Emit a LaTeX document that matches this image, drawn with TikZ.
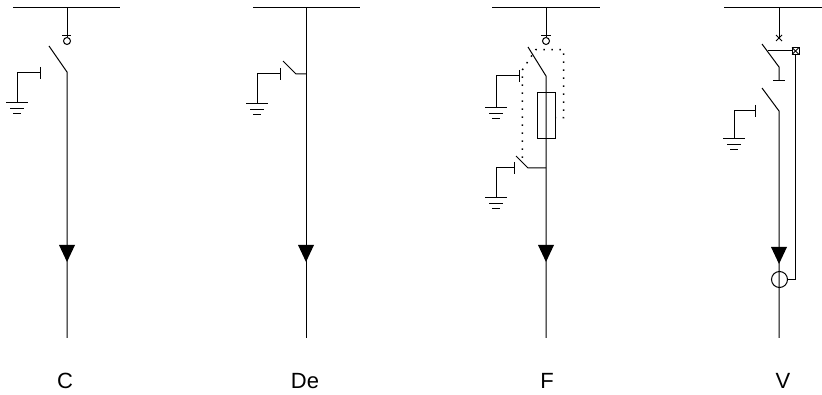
\documentclass[tikz,border=0pt]{standalone}
\usepackage{fontspec}
\setmainfont{Liberation Sans}
\usetikzlibrary{shapes,arrows,calc}
\tikzstyle{line} = [draw, line width=1pt]
\tikzstyle{ring} = [circle, draw, line width=1pt, inner sep=0pt, minimum size=7pt]
\tikzstyle{fuse} = [rectangle, draw, line width=1pt, inner sep=0pt, minimum width=18pt, minimum height=46pt]
\tikzstyle{relay} = [rectangle, draw, line width=1pt, inner sep=0pt, minimum size=7pt]
\tikzstyle{sensor} = [circle, draw, line width=1pt, inner sep=0pt, minimum size=16pt]
\tikzstyle{caption} = [inner sep=0pt, font=\fontsize{22}{22}\selectfont]
\tikzstyle{link} = [draw, line width=1.5pt, dash pattern=on 1.5pt off 6.5pt]
% earth symbol hanging under a named point
\newcommand{\earth}[1]{
    \path [line] ($(#1)+(-11,0)$) -- ++(22,0);
    \path [line] ($(#1)+(-7,5.5)$) -- ++(14,0);
    \path [line] ($(#1)+(-4,11)$) -- ++(8,0);
}
% cable head, filled triangle on the feeder
\newcommand{\head}[2]{
    \fill (#1,#2) -- ++(-8,0) -- ++(8,17) -- ++(8,-17) -- cycle;
}

\begin{document}
\begin{tikzpicture}
[x=1pt, y=-1pt]
    \useasboundingbox (0,0) rectangle (822,395);

    % Panel C
    \coordinate (cbusl) at (13,8);
    \coordinate (cbusr) at (120,8);
    \coordinate (cbus) at (67,8);
    \node [ring] (cring) at (67,41) {};
    \coordinate (cblade) at (49,46);
    \coordinate (chinge) at (67,72);
    \coordinate (cend) at (67,338);
    \coordinate (cstop) at (40,73);
    \coordinate (cgnd) at (17,103);
    \node [caption] (clabel) at (65,381) {C};

    \path [line] (cbusl) -- (cbusr);
    \path [line] (cbus) -- (cring.north);
    \path [line] (62,36) -- (71,36);
    \path [line] (cblade) -- (chinge) -- (cend);
    \path [line] (40,67) -- (40,79);
    \path [line] (cstop) -| (cgnd);
    \earth{cgnd}
    \head{67}{245}

    % Panel De
    \coordinate (dbusl) at (253,8);
    \coordinate (dbusr) at (360,8);
    \coordinate (dbus) at (306,8);
    \coordinate (dend) at (306,338);
    \coordinate (dblade) at (283,61);
    \coordinate (dhinge) at (296,74);
    \coordinate (dtap) at (306,74);
    \coordinate (dstop) at (280,74);
    \coordinate (dgnd) at (257,104);
    \node [caption] (dlabel) at (305,381) {De};

    \path [line] (dbusl) -- (dbusr);
    \path [line] (dbus) -- (dend);
    \path [line] (dblade) -- (dhinge) -- (dtap);
    \path [line] (280,68) -- (280,80);
    \path [line] (dstop) -| (dgnd);
    \earth{dgnd}
    \head{306}{245}

    % Panel F
    \coordinate (fbusl) at (492,8);
    \coordinate (fbusr) at (600,8);
    \coordinate (fbus) at (546,8);
    \node [ring] (fring) at (546,41) {};
    \node [fuse] (ffuse) at (546,116) {};
    \coordinate (fblade) at (528,47);
    \coordinate (fhinge) at (546,76);
    \coordinate (fend) at (546,338);
    \coordinate (fstop) at (519,76);
    \coordinate (fgnd) at (496,108);
    \coordinate (fbladeb) at (516,156);
    \coordinate (fhingeb) at (528,168);
    \coordinate (ftap) at (546,168);
    \coordinate (fstopb) at (514,168);
    \coordinate (fgndb) at (496,198);
    \node [caption] (flabel) at (547,381) {F};

    \path [line] (fbusl) -- (fbusr);
    \path [line] (fbus) -- (fring.north);
    \path [line] (541,36) -- (551,36);
    \path [line] (fblade) -- (fhinge) -- (fend);
    \path [line] (519,70) -- (519,82);
    \path [line] (fstop) -| (fgnd);
    \earth{fgnd}
    \path [line] (fbladeb) -- (fhingeb) -- (ftap);
    \path [line] (514,162) -- (514,174);
    \path [line] (fstopb) -| (fgndb);
    \earth{fgndb}
    \path [link] (522.3,158) -- (522.3,70) -- (535.7,49.7) -- (563.7,49.7) -- (563.7,117.7) -- (555,117.7);
    \head{546}{245}

    % Panel V
    \coordinate (vbusl) at (724,8);
    \coordinate (vbusr) at (822,8);
    \coordinate (vbus) at (779,8);
    \coordinate (vcross) at (779,38);
    \coordinate (vblade) at (762,44);
    \coordinate (vhinge) at (779,67);
    \coordinate (vfoot) at (779,81);
    \coordinate (vtrip) at (768,51);
    \node [relay] (vrelay) at (795.5,51) {};
    \coordinate (vbladeb) at (762,88);
    \coordinate (vhingeb) at (779,111);
    \coordinate (vend) at (779,338);
    \node [sensor] (vsensor) at (779.5,279.5) {};
    \coordinate (vstop) at (755.5,111);
    \coordinate (vgnd) at (734,139);
    \node [caption] (vlabel) at (783,381) {V};

    \path [line] (vbusl) -- (vbusr);
    \path [line] (vbus) -- (vcross);
    \path [line] (776,35) -- (782,41);
    \path [line] (782,35) -- (776,41);
    \path [line] (vblade) -- (vhinge) -- (vfoot);
    \path [line] (773,81) -- (785,81);
    \path [line] (vtrip) -- (vrelay);
    \path [line] (792,47.5) -- (799,54.5);
    \path [line] (799,47.5) -- (792,54.5);
    \path [line] (vrelay) |- (vsensor.east);
    \path [line] (vbladeb) -- (vhingeb) -- (vend);
    \path [line] (755.5,105) -- (755.5,117);
    \path [line] (vstop) -| (vgnd);
    \earth{vgnd}
    \head{779}{247}

\end{tikzpicture}
\end{document}
